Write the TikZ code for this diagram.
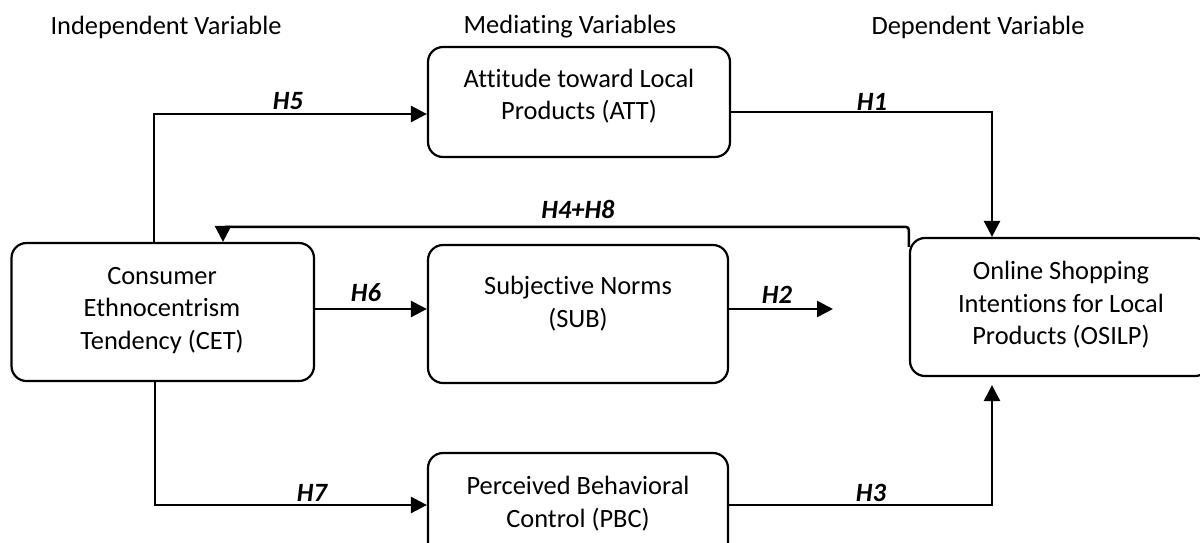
\documentclass[tikz,border=0pt]{standalone}
\usepackage{fontspec}
\setmainfont{Carlito}[Ligatures={NoCommon}]
\usetikzlibrary{arrows.meta}
\begin{document}
\begin{tikzpicture}[x=0.5pt,y=-0.5pt,
  every node/.style={font=\fontsize{13.2pt}{16.25pt}\selectfont},
  box/.style={draw, line width=1.1pt, rounded corners=7.5pt, inner sep=0pt},
  txt/.style={align=center, inner sep=0pt},
  hyp/.style={font=\fontsize{13.2pt}{16.25pt}\selectfont\bfseries\itshape, inner sep=0pt},
  arr/.style={line width=1.25pt, -{Triangle[length=8pt,width=8pt]}}]
\clip (0,0) rectangle (1200,542);
\fill[white] (0,0) rectangle (1200,542);

% headers
\node[txt] (hind) at (166,27) {Independent Variable};
\node[txt] (hmed) at (570,27) {Mediating Variables};
\node[txt] (hdep) at (978,27) {Dependent Variable};

% boxes
\node[box, minimum width=151pt, minimum height=55pt] (att) at (579,102) {};
\node[box, minimum width=151.25pt, minimum height=69pt] (cet) at (162.75,312) {};
\node[box, minimum width=150pt, minimum height=69pt] (sub) at (578,314) {};
\node[box, minimum width=150pt, minimum height=55pt] (pbc) at (578,508) {};
\node[box, minimum width=150pt, minimum height=69pt] (osilp) at (1060,307) {};

% box texts
\node[txt] (attT) at (579,96) {Attitude toward Local\\Products (ATT)};
\node[txt] (cetT) at (162,310.5) {Consumer\\Ethnocentrism\\Tendency (CET)};
\node[txt] (subT) at (578,303.5) {Subjective Norms\\(SUB)};
\node[txt] (pbcT) at (578,503.5) {Perceived Behavioral\\Control (PBC)};
\node[txt] (osilpT) at (1061,305) {Online Shopping\\Intentions for Local\\Products (OSILP)};

% connectors
\coordinate (h2end) at (833,309);
\draw[arr] ([xshift=-4.375pt]cet.north) |- ([yshift=-6pt]att.west);
\draw[arr] ([yshift=-5pt]att.east) -| ([xshift=-34pt]osilp.north);
\draw[arr, rounded corners=1.5pt] ([yshift=-5pt]osilp.north west) -- ++(0,-20) -| ([xshift=30.125pt]cet.north);
\draw[arr] ([yshift=1.5pt]cet.east) -- ([yshift=1.5pt]cet.east -| sub.west);
\draw[arr] (sub.east |- h2end) -- (h2end);
\draw[arr] ([xshift=-3.875pt]cet.south) |- ([yshift=1.5pt]pbc.west);
\draw[arr, shorten >=4pt] ([yshift=1.5pt]pbc.east) -| ([xshift=-34pt]osilp.south);

% hypothesis labels
\node[hyp] (h5) at (288,101) {H5};
\node[hyp] (h1) at (872,102) {H1};
\node[hyp] (h48) at (578,209) {H4+H8};
\node[hyp] (h6) at (366,293) {H6};
\node[hyp] (h2) at (777,295) {H2};
\node[hyp] (h7) at (312,493) {H7};
\node[hyp] (h3) at (871,493) {H3};
\end{tikzpicture}
\end{document}
